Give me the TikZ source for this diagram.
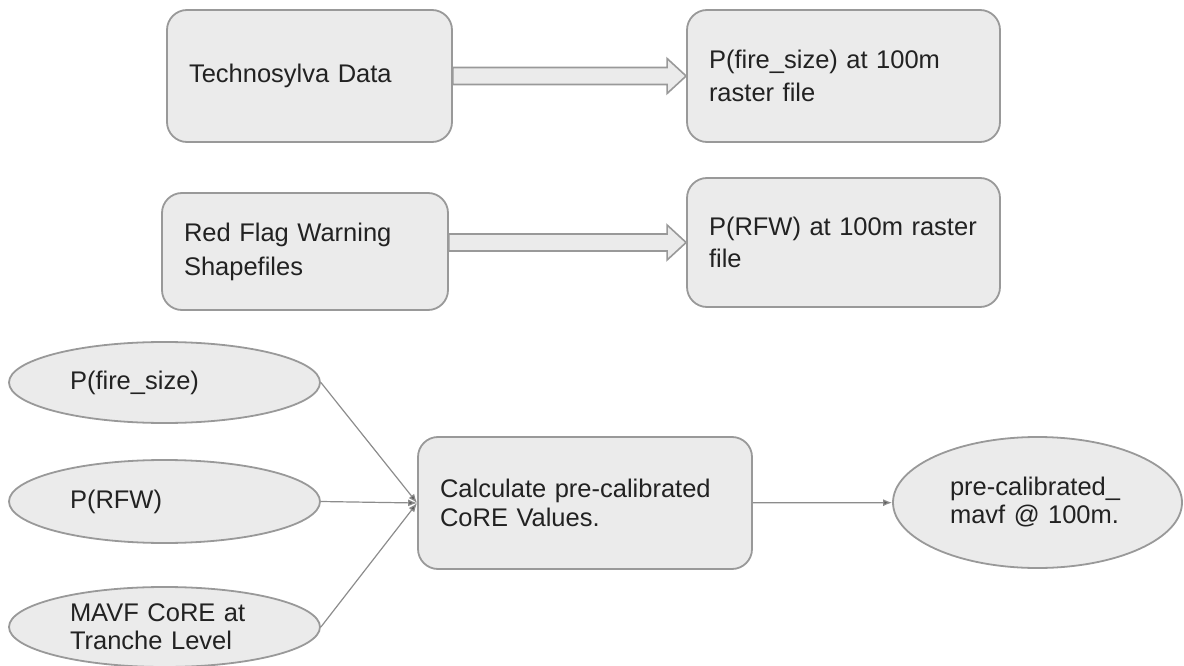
\documentclass[tikz,border=0pt]{standalone}
\usepackage{fontspec}
\setmainfont{Liberation Sans}
\usetikzlibrary{arrows.meta,shapes.geometric,calc}
\definecolor{boxfill}{HTML}{EBEBEB}
\definecolor{boxline}{HTML}{999999}
\definecolor{txtcol}{HTML}{222222}
\definecolor{wirecol}{HTML}{8C8C8C}

\begin{document}
\begin{tikzpicture}[x=1pt,y=-1pt,
  box/.style={draw=boxline,line width=1.8pt,fill=boxfill,rounded corners=20pt,
    text=txtcol,align=left,inner xsep=22pt,inner ysep=0pt},
  oval/.style={ellipse,draw=boxline,line width=1.8pt,fill=boxfill,text=txtcol,
    align=left,inner sep=0pt},
  lsp/.style={font=\fontsize{25.5}{#1}\selectfont},
  fat/.style={draw=boxline,line width=1.6pt,fill=boxfill,line join=miter,
    to path={($(\tikztostart)+(0,-8.5)$) -- ($(\tikztotarget)+(-19,-8.5)$)
      -- ($(\tikztotarget)+(-19,-17.5)$) -- (\tikztotarget)
      -- ($(\tikztotarget)+(-19,17.5)$) -- ($(\tikztotarget)+(-19,8.5)$)
      -- ($(\tikztostart)+(0,8.5)$) -- cycle}},
  wire/.style={draw=wirecol,line width=1.2pt,-{Latex[length=9pt,width=7pt,fill=black!65]}}]
  \useasboundingbox (0,0) rectangle (1184,666);
  % raster preparation
  \node[box,lsp=30,text width=241pt,minimum height=132pt] (techno) at (309.5,76) {Technosylva Data};
  \node[box,lsp=33,text width=269pt,minimum height=132pt] (fsras) at (843.5,76) {P(fire\_size) at 100m\\raster file};
  \node[box,lsp=34,text width=242pt,minimum height=117pt] (redflag) at (305,251.5) {Red Flag Warning\\Shapefiles};
  \node[box,lsp=32,text width=269pt,minimum height=129pt] (rfwras) at (843.5,242.5) {P(RFW) at 100m raster\\file};
  \coordinate (rfout) at (redflag.east |- rfwras.west);
  % CoRE calculation
  \node[oval,lsp=30,text width=189pt,minimum width=311pt,minimum height=81pt] (pfire) at (164.5,382.5) {P(fire\_size)};
  \node[oval,lsp=30,text width=189pt,minimum width=311pt,minimum height=83pt] (prfw) at (164.5,501.5) {P(RFW)};
  \node[oval,lsp=28,text width=189pt,minimum width=311pt,minimum height=80pt] (mavf) at (164.5,627) {MAVF CoRE at\\Tranche Level};
  \node[box,lsp=29,text width=290pt,minimum height=132pt] (calc) at (585,503) {Calculate pre-calibrated\\CoRE Values.};
  \node[oval,lsp=28,text width=175pt,minimum width=289pt,minimum height=131pt] (outv) at (1037.5,502.5) {pre-calibrated\_\\mavf @ 100m.};
  \draw[fat] (techno.east) to (fsras.west);
  \draw[fat] (rfout) to (rfwras.west);
  \draw[wire] (pfire.east) -- (calc.west);
  \draw[wire] (prfw.east) -- (calc.west);
  \draw[wire] (mavf.east) -- (calc.west);
  \draw[wire] (calc) -- (outv);
\end{tikzpicture}
\end{document}
